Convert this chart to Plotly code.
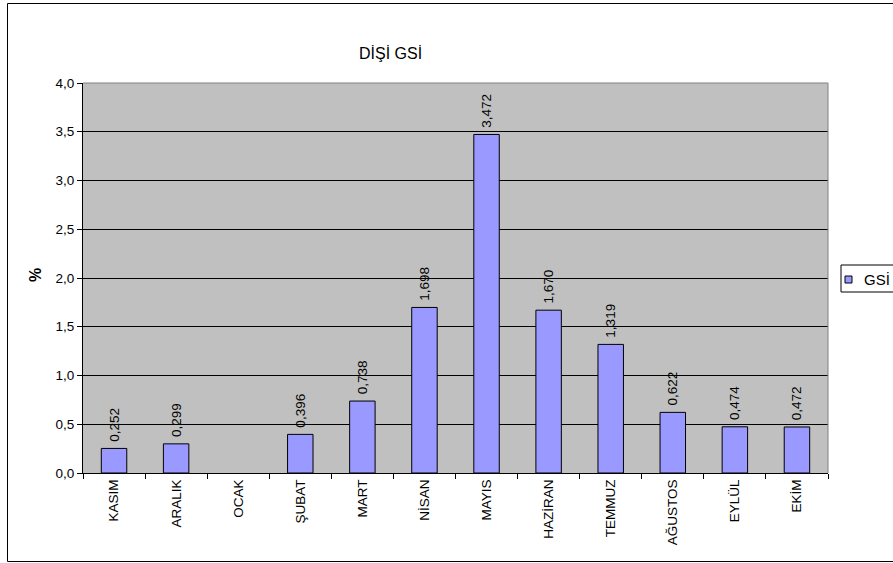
import plotly.graph_objects as go

# Monthly female gonadosomatic index (%)
months = ["KASIM", "ARALIK", "OCAK", "ŞUBAT", "MART", "NİSAN", "MAYIS",
          "HAZİRAN", "TEMMUZ", "AĞUSTOS", "EYLÜL", "EKİM"]
gsi = [0.252, 0.299, None, 0.396, 0.738, 1.698, 3.472,
       1.670, 1.319, 0.622, 0.474, 0.472]
y_ticks = [0.0, 0.5, 1.0, 1.5, 2.0, 2.5, 3.0, 3.5, 4.0]

W, H = 893, 563
L, R, T, B = 83, 65, 83, 90
PW, PH = W - L - R, H - T - B
FONT = "Liberation Sans, Arial, sans-serif"
BAR = "#9999FF"
FS = 13.5


def fx(px):
    """pixel x -> paper x"""
    return (px - L) / PW


def fy(py):
    """pixel y -> paper y"""
    return (H - B - py) / PH


fig = go.Figure()
fig.add_trace(go.Bar(
    x=months, y=gsi,
    marker=dict(color=BAR, line=dict(color="black", width=1)),
    texttemplate="\u00a0%{y:.3f}",
    textposition="outside",
    textangle=-90,
    constraintext="none",
    cliponaxis=False,
    outsidetextfont=dict(family=FONT, size=FS, color="black"),
    showlegend=False,
))

shapes = [
    # outer chart frame
    dict(type="rect", xref="paper", yref="paper",
         x0=fx(7.5), x1=fx(910), y0=fy(561.5), y1=fy(3.5),
         line=dict(color="black", width=1), fillcolor="rgba(0,0,0,0)", layer="below"),
    # plot area top and right borders
    dict(type="line", xref="paper", yref="paper", x0=0, x1=1, y0=1, y1=1,
         line=dict(color="#808080", width=1), layer="above"),
    dict(type="line", xref="paper", yref="paper", x0=1, x1=1, y0=0, y1=1,
         line=dict(color="#808080", width=1), layer="above"),
    # legend box
    dict(type="rect", xref="paper", yref="paper",
         x0=fx(841), x1=fx(910), y0=fy(292), y1=fy(265),
         line=dict(color="black", width=1), fillcolor="white", layer="above"),
    dict(type="rect", xref="paper", yref="paper",
         x0=fx(845), x1=fx(852), y0=fy(283), y1=fy(276),
         line=dict(color="black", width=1), fillcolor=BAR, layer="above"),
]

annotations = [
    dict(text="DİŞİ GSİ", xref="paper", yref="paper", x=fx(390.5), y=fy(53),
         xanchor="center", yanchor="middle", showarrow=False,
         font=dict(family=FONT, size=16, color="black")),
    dict(text="<b>%</b>", xref="paper", yref="paper", x=fx(35), y=fy(275),
         xanchor="center", yanchor="middle", showarrow=False, textangle=-90,
         font=dict(family=FONT, size=16, color="black")),
    dict(text="GSİ", xref="paper", yref="paper", x=fx(862), y=fy(279.5),
         xanchor="left", yanchor="middle", showarrow=False,
         font=dict(family=FONT, size=15, color="black")),
]

fig.update_layout(
    width=W, height=H, autosize=False,
    margin=dict(l=L, r=R, t=T, b=B, pad=0),
    paper_bgcolor="white",
    plot_bgcolor="#C0C0C0",
    separators=", ",
    font=dict(family=FONT, size=FS, color="black"),
    bargap=0.59,
    shapes=shapes,
    annotations=annotations,
    xaxis=dict(
        type="category",
        showline=True, linecolor="black", linewidth=1,
        ticks="outside", tickson="boundaries", ticklen=5,
        tickcolor="black", tickwidth=1,
        tickangle=-90, showgrid=False,
        tickfont=dict(family=FONT, size=FS, color="black"),
    ),
    yaxis=dict(
        range=[0, 4.0], tickvals=y_ticks, tickformat=".1f",
        showline=True, linecolor="black", linewidth=1,
        ticks="outside", ticklen=5, tickcolor="black", tickwidth=1,
        showgrid=True, gridcolor="black", gridwidth=1,
        zeroline=False,
        tickfont=dict(family=FONT, size=FS, color="black"),
    ),
)

fig.write_html("out.html")
